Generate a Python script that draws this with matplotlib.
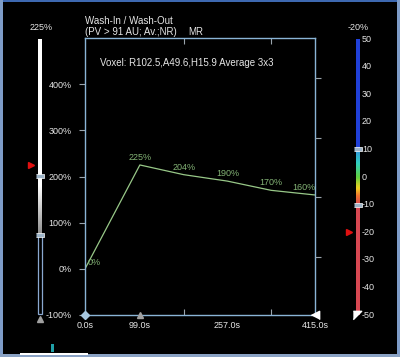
import numpy as np
import matplotlib
matplotlib.use("Agg")
import matplotlib.pyplot as plt
from matplotlib.patches import Rectangle
from matplotlib.colors import LinearSegmentedColormap

plt.rcParams['font.family'] = ['Liberation Sans', 'DejaVu Sans']

# ---- data ----
times = [0, 99, 178, 257, 336, 415]
values = [0, 225, 204, 190, 170, 160]
value_labels = ["0%", "225%", "204%", "190%", "170%", "160%"]
xtick_pos = [0, 99, 257, 415]
xtick_labels = ["0.0s", "99.0s", "257.0s", "415.0s"]
xminor_pos = [99, 178, 257, 336]
ytick_pos = [-100, 0, 100, 200, 300, 400]
ytick_labels = ["-100%", "0%", "100%", "200%", "300%", "400%"]
right_ticks = [26, 155, 284, 413]
left_bar_value = 225
left_sliders = [200, 72]
right_bar_value = -20
right_sliders = [10, -10]
right_bar_ticks = [50, 40, 30, 20, 10, 0, -10, -20, -30, -40, -50]

W, H = 400, 357
fig = plt.figure(figsize=(W / 100, H / 100), dpi=100, facecolor='black')


def fx(x):
    return x / W


def fy(y):
    return 1 - y / H


def add_ax(x0, y0, x1, y1):
    return fig.add_axes([fx(x0), fy(y1), fx(x1 - x0), (y1 - y0) / H])


WHITE = '#e6e6e6'
SPINE = '#8ab4d6'
TICKC = '#9aa4ac'
GREEN_LINE = '#98c888'
GREEN_TXT = '#84b476'

# ---- main axes ----
ax = add_ax(85, 38, 315, 315)
ax.set_facecolor('black')
ax.set_xlim(0, 415)
ax.set_ylim(-100, 500)
for s in ax.spines.values():
    s.set_color(SPINE)
    s.set_linewidth(1.0)
ax.plot(times, values, color=GREEN_LINE, lw=0.9)
for i, (t, v, lab) in enumerate(zip(times, values, value_labels)):
    if i == 0:
        ax.annotate(lab, (t, v), xytext=(3, 2), textcoords='offset pixels',
                    ha='left', va='bottom', color=GREEN_TXT, fontsize=6.5)
    elif i == len(times) - 1:
        ax.annotate(lab, (t, v), xytext=(-11, 3), textcoords='offset pixels',
                    ha='center', va='bottom', color=GREEN_TXT, fontsize=6.5)
    else:
        ax.annotate(lab, (t, v), xytext=(0, 3), textcoords='offset pixels',
                    ha='center', va='bottom', color=GREEN_TXT, fontsize=6.5)

ax.set_yticks(ytick_pos)
ax.set_yticklabels(ytick_labels)
ax.tick_params(axis='y', which='major', direction='out', length=4.5, width=0.8,
               color=TICKC, labelcolor=WHITE, labelsize=6.5, pad=5)
ax.set_xticks(xtick_pos)
ax.set_xticklabels(xtick_labels)
ax.tick_params(axis='x', which='major', length=0, labelcolor=WHITE,
               labelsize=6.5, pad=4)
ax.set_xticks(xminor_pos, minor=True)
ax.tick_params(axis='x', which='minor', direction='in', length=4.5, width=0.8,
               color=TICKC, top=True, bottom=True)

ax2 = ax.twinx()
ax2.set_ylim(-100, 500)
ax2.set_yticks(right_ticks)
ax2.tick_params(axis='y', direction='out', length=4.5, width=0.8, color=TICKC,
                labelright=False)
for s in ax2.spines.values():
    s.set_visible(False)

# axis-end markers
ax.plot([0], [-100], marker='D', ms=4, color='#a8c8e0', clip_on=False, zorder=5)
ax.plot([99], [-100], marker='^', ms=4.5, color='#a0a0a0', clip_on=False, zorder=5)
ax.plot([415], [-100], marker=[(-1, 0), (1, 1), (1, -1)], ms=6, color='white',
        clip_on=False, zorder=5)

# ---- titles ----
fig.text(fx(85), fy(24), "Wash-In / Wash-Out", color=WHITE, fontsize=7,
         ha='left', va='baseline')
fig.text(fx(85), fy(35), "(PV > 91 AU; Av.;NR)", color=WHITE, fontsize=7,
         ha='left', va='baseline')
fig.text(fx(188), fy(35), "MR", color=WHITE, fontsize=7, ha='left', va='baseline')
fig.text(fx(100), fy(66), "Voxel: R102.5,A49.6,H15.9 Average 3x3", color=WHITE,
         fontsize=7, ha='left', va='baseline')

# ---- left bar ----
lax = add_ax(38, 39, 42, 314)
lax.set_xlim(0, 1)
lax.set_ylim(-100, 500)
lax.set_facecolor('black')
lax.set_axis_off()
vv = np.linspace(-100, 500, 600)
gray = np.clip((vv - left_sliders[1]) / (left_sliders[0] - 20 - left_sliders[1]), 0, 1)
col = 0.55 + 0.45 * gray
img = np.stack([col, col, col], axis=1)[:, None, :]
img[vv < left_sliders[1]] = 0.0
lax.imshow(img, extent=[0, 1, -100, 500], origin='lower', aspect='auto',
           interpolation='bilinear')
lax.add_patch(Rectangle((0, -100), 1, left_sliders[1] + 100, fill=False,
                        edgecolor='#8aa8d0', lw=0.9, clip_on=False))
slider_marker = [(-1.6, -0.8), (1.6, -0.8), (1.6, 0.8), (-1.6, 0.8)]
for sv in left_sliders:
    lax.plot([0.5], [sv], marker=slider_marker, ms=6, color='#9db4c8',
             mec='white', mew=0.5, clip_on=False)
lax.plot([-1.7], [left_bar_value], marker='>', ms=5, color='#e01010',
         clip_on=False)
lax.plot([0.5], [-110], marker='^', ms=5, color='#a0a0a0', clip_on=False)
fig.text(fx(41), fy(30), f"{left_bar_value}%", color=WHITE, fontsize=6.5,
         ha='center', va='baseline')

# ---- right bar ----
rax = add_ax(356, 39, 360, 315)
rax.set_xlim(0, 1)
rax.set_ylim(-50, 50)
rax.set_axis_off()
cmap = LinearSegmentedColormap.from_list('wo', [
    (0.0, '#d84852'), (0.4, '#d84852'), (0.43, '#f07030'), (0.46, '#f0d020'),
    (0.5, '#60d040'), (0.55, '#30d0c0'), (0.6, '#3090e0'), (0.61, '#2040d8'),
    (1.0, '#2040d8')])
rv = np.linspace(-50, 50, 400)[:, None]
rax.imshow(rv, extent=[0, 1, -50, 50], origin='lower', aspect='auto',
           cmap=cmap, vmin=-50, vmax=50, interpolation='bilinear')
for sv in right_sliders:
    rax.plot([0.5], [sv], marker=slider_marker, ms=6, color='#9db4c8',
             mec='white', mew=0.5, clip_on=False)
rax.plot([-1.7], [right_bar_value], marker='>', ms=5, color='#e01010',
         clip_on=False)
rax.plot([0.2], [-50], marker=[(-1, -1), (1, 1), (-1, 1)], ms=6, color='white',
         clip_on=False)
for t in right_bar_ticks:
    rax.text(1.5, t, str(t), color=WHITE, fontsize=6.5, ha='left', va='center',
             transform=rax.transData, clip_on=False)
fig.text(fx(358), fy(30), f"{right_bar_value}%", color=WHITE, fontsize=6.5,
         ha='center', va='baseline')

# ---- window frame ----
fig.add_artist(Rectangle((0, fy(2)), 1, fy(0) - fy(2), transform=fig.transFigure,
                         color='#3d68b0', lw=0))
fig.add_artist(Rectangle((0, 0), fx(3), 1, transform=fig.transFigure,
                         color='#7e9cc8', lw=0))
fig.add_artist(Rectangle((fx(397), 0), fx(3), 1, transform=fig.transFigure,
                         color='#7e9cc8', lw=0))
fig.add_artist(Rectangle((0, 0), 1, fy(354), transform=fig.transFigure,
                         color='#8aa2c4', lw=0))
fig.add_artist(Rectangle((fx(20), fy(355)), fx(68), fy(353) - fy(355),
                         transform=fig.transFigure, color='white', lw=0))
fig.add_artist(Rectangle((fx(51), fy(352)), fx(3), fy(344) - fy(352),
                         transform=fig.transFigure, color='#20a0a8', lw=0))

fig.savefig('out.png', dpi=100, facecolor='black')
